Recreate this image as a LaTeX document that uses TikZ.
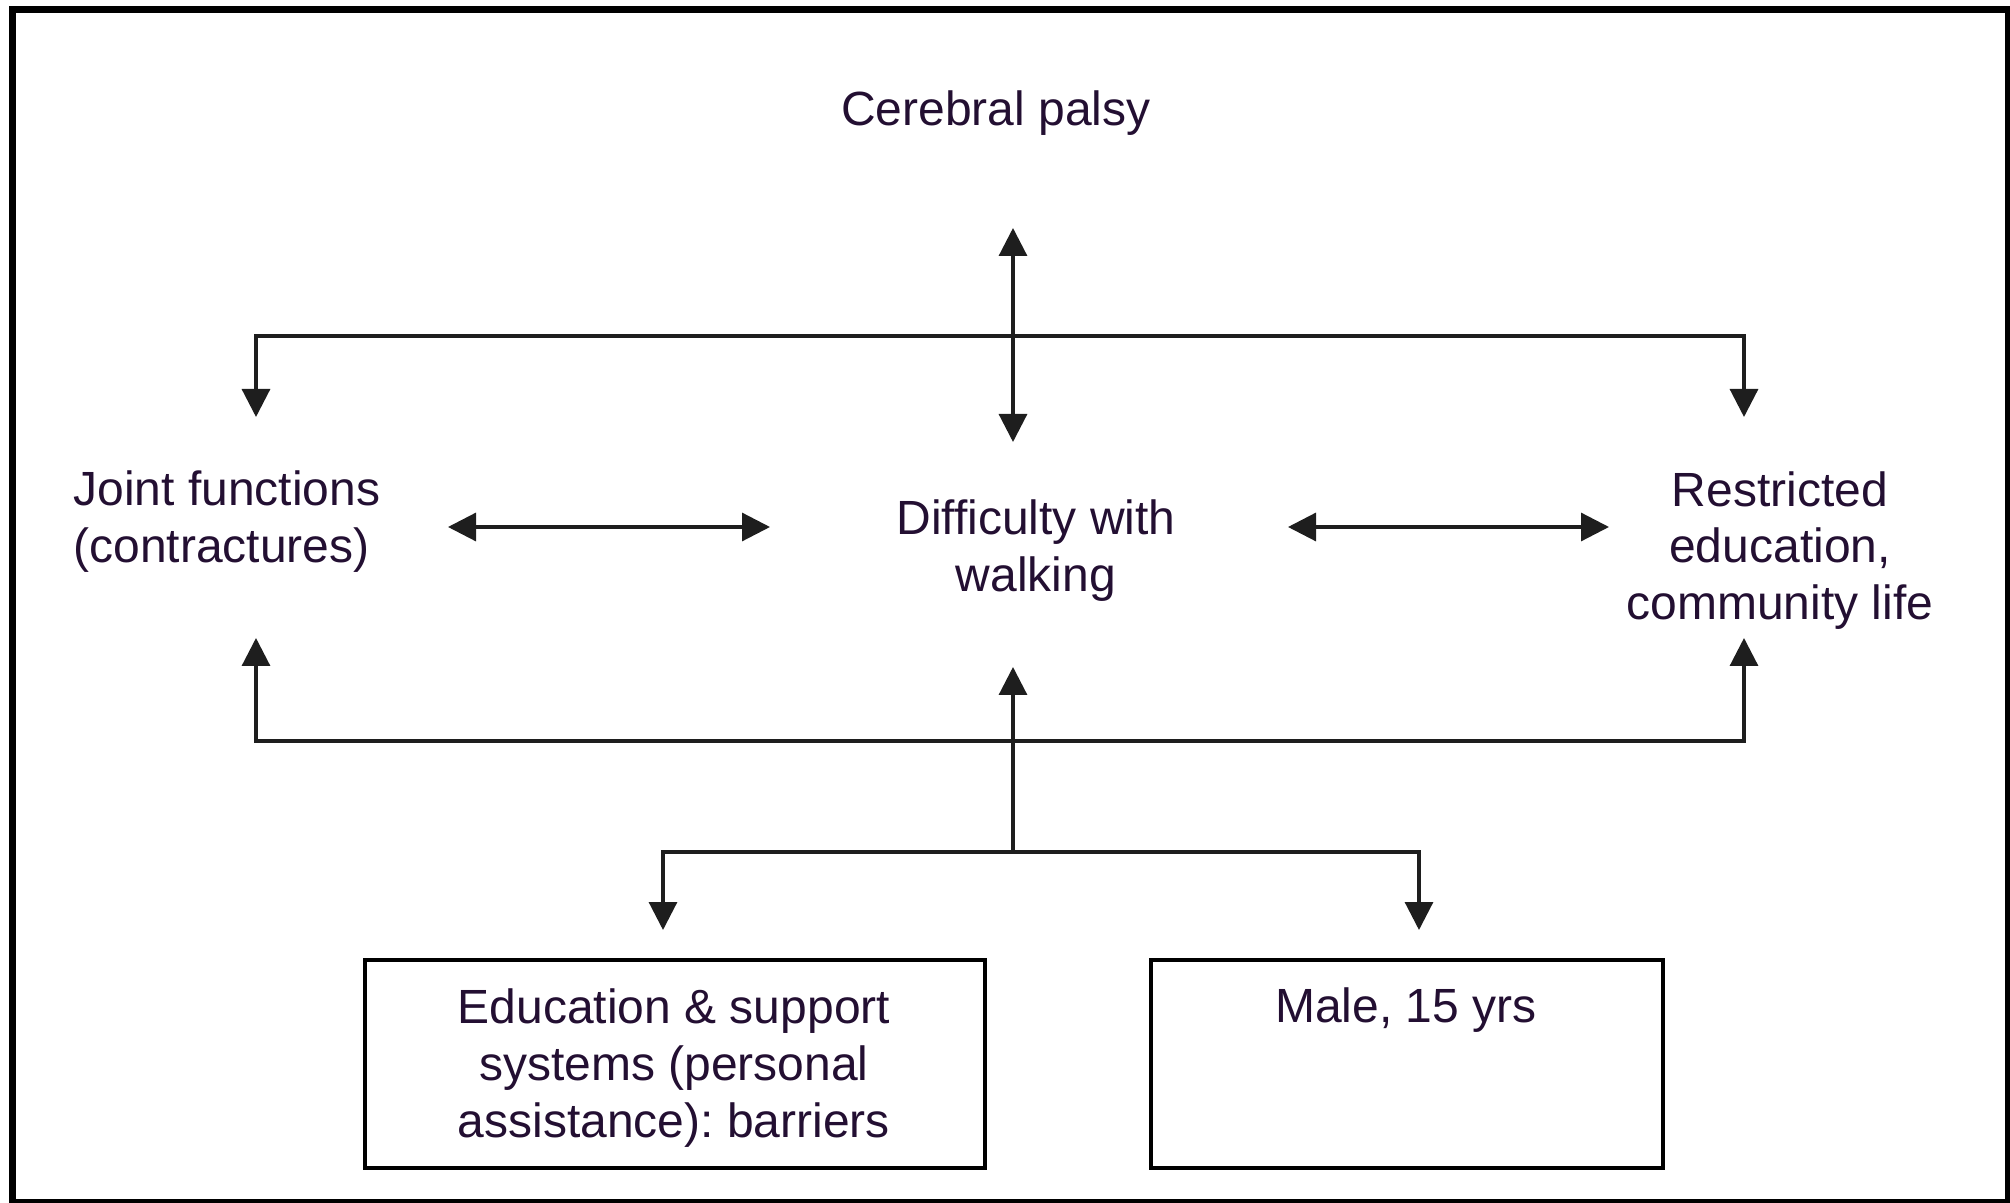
\documentclass[tikz,border=0pt]{standalone}
\usepackage{fontspec}
\setmainfont{Liberation Sans}
\usetikzlibrary{arrows.meta}
\frenchspacing
\definecolor{txt}{RGB}{35,15,50}
\definecolor{ln}{RGB}{30,30,30}
\tikzset{
  lbl/.style={inner sep=0pt, text=txt, font=\fontsize{24pt}{28.5pt}\selectfont\frenchspacing},
  conn/.style={draw=ln, line width=1.6pt, line join=miter},
  tip/.tip={Triangle[length=14pt,width=14pt]},
  twoway/.style={conn, {tip}-{tip}},
  oneway/.style={conn, -{tip}},
  boxnode/.style={draw=black, line width=1.9pt, inner sep=0pt, fill=white},
}
\begin{document}
\begin{tikzpicture}[x=0.5pt, y=-0.5pt]
\useasboundingbox (0,0) rectangle (2010,1203);
% outer frame
\draw[line width=3.5pt] (12.5,9.5) rectangle (2008.5,1202.5);

% text nodes (base anchor = baseline of the last line)
\node[lbl, anchor=base] (cp) at (996,126) {Cerebral palsy};
\node[lbl, anchor=base west, align=left] (joint) at (73,563) {Joint functions\\(contractures)};
\node[lbl, anchor=base, align=center] (diff) at (1036,592) {Difficulty with\\walking};
\node[lbl, anchor=base, align=center] (restr) at (1780,620) {Restricted\\education,\\community life};

% boxes
\node[boxnode, minimum width=310pt, minimum height=104pt] (edu) at (675,1064) {};
\node[lbl, anchor=base, align=center] (eduT) at (674,1137) {Education \& support\\systems (personal\\assistance): barriers};
\node[boxnode, minimum width=256pt, minimum height=104pt] (male) at (1407,1064) {};
\node[lbl, anchor=base] (maleT) at (1406,1022) {Male, 15 yrs};

% connector coordinates
\coordinate (cpTip) at (1013,228);
\coordinate (diffTop) at (1013,442);
\coordinate (topL) at (256,336);
\coordinate (topR) at (1744,336);
\coordinate (jointTop) at (256,417);
\coordinate (restrTop) at (1744,417);
\coordinate (jointR) at (448,527);
\coordinate (diffL) at (770,527);
\coordinate (diffR) at (1288,527);
\coordinate (restrL) at (1609,527);
\coordinate (botL) at (256,741);
\coordinate (botR) at (1744,741);
\coordinate (jointBot) at (256,638);
\coordinate (restrBot) at (1744,638);
\coordinate (hub) at (1013,852);
\coordinate (diffBot) at (1013,667);
\coordinate (brL) at (663,852);
\coordinate (brR) at (1419,852);
\coordinate (eduTop) at (663,930);
\coordinate (maleTop) at (1419,930);

% connectors
\draw[twoway] (cpTip) -- (diffTop);
\draw[twoway] (jointTop) -- (topL) -- (topR) -- (restrTop);
\draw[twoway] (jointR) -- (diffL);
\draw[twoway] (diffR) -- (restrL);
\draw[twoway] (jointBot) -- (botL) -- (botR) -- (restrBot);
\draw[oneway] (hub) -- (diffBot);
\draw[twoway] (eduTop) -- (brL) -- (brR) -- (maleTop);
\end{tikzpicture}
\end{document}
